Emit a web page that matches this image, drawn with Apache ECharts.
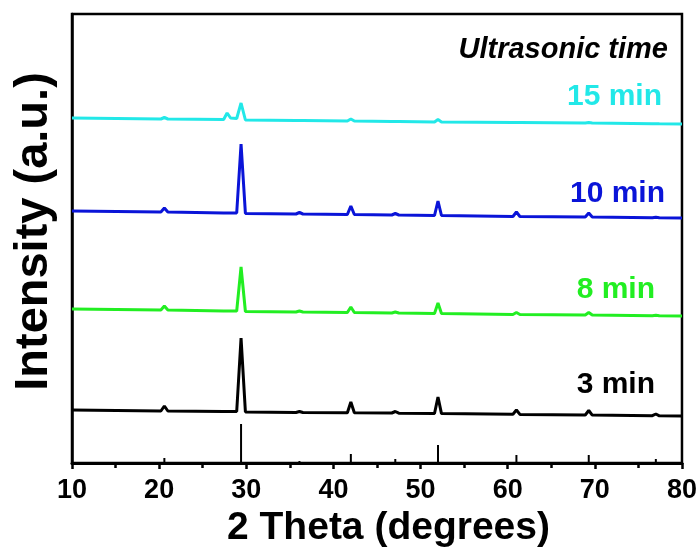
<!DOCTYPE html>
<html><head><meta charset="utf-8">
<script src="https://cdn.jsdelivr.net/npm/echarts@6/dist/echarts.min.js"></script>
<style>html,body{margin:0;padding:0;background:#fff}#c{width:700px;height:554px}</style>
</head><body><div id="c"></div>
<script>
// 2 theta sample positions (degrees)
const twoTheta = [10, 20.2, 20.6, 21.0, 27.4, 27.8, 28.2, 28.9, 29.4, 29.9, 35.7, 36.1, 36.5, 41.6, 42.0, 42.4, 46.7, 47.1, 47.5, 51.6, 52.0, 52.4, 60.6, 61.0, 61.4, 68.9, 69.3, 69.7, 76.6, 77.0, 77.4, 80];
// stacked intensities (a.u.)
const min3  = [53, 52, 57, 52, 51.5, 51.5, 51.5, 51.5, 125, 51, 50.5, 51.5, 50.5, 50.3, 61, 50.2, 50, 51.5, 49.8, 49.5, 66, 49.4, 48.7, 53, 48.6, 48, 52.5, 47.9, 47.3, 49, 47.2, 47];
const min8  = [154, 153, 157, 153, 152, 152, 152, 152, 196, 151.5, 151, 152, 151, 150.5, 156, 150.5, 150, 151, 150, 149.5, 160, 149.5, 148.5, 150.5, 148.5, 148, 150.5, 148, 147.3, 147.8, 147.2, 147];
const min10 = [252, 251, 255, 251, 250, 250, 250, 250, 319, 249.5, 249, 250.5, 249, 248.5, 257, 248.5, 248, 249.5, 248, 247.5, 262, 247.5, 246.5, 251, 246.5, 246, 250, 246, 245.3, 245.8, 245.2, 245];
const min15 = [345, 344, 345.5, 344, 343.5, 350, 345, 344.5, 360, 343, 342.5, 342.5, 342.5, 342, 344, 342, 341.5, 341.5, 341.5, 341, 343.5, 341, 340.5, 340.5, 340.5, 340, 340.5, 340, 339.3, 339.3, 339.2, 339];
// reference pattern sticks
const refPos = [20.6, 29.4, 36.1, 42.0, 47.1, 52.0, 61.0, 69.3, 77.0];
const refInt = [5, 39, 2, 9, 4, 18, 8, 8, 4];
const seriesNames = ['3 min', '8 min', '10 min', '15 min'];
const xTicks = [10, 20, 30, 40, 50, 60, 70, 80];

const FONT = '"Liberation Sans", Arial, sans-serif';
const colors = ['#000000', '#22ee22', '#0a14d8', '#22e8e8'];
const pairs = arr => twoTheta.map((x, i) => [x, arr[i]]);
const data = [min3, min8, min10, min15];
const labelPos = [[655, 385], [655, 290], [665, 194], [662, 97]];

const chart = echarts.init(document.getElementById('c'));
chart.setOption({
  animation: false,
  backgroundColor: '#fff',
  grid: {left: 72, right: 17, top: 14, bottom: 91, show: true, borderColor: '#000', borderWidth: 2.5},
  graphic: [
    {type: 'text', x: 668, y: 50, style: {text: 'Ultrasonic time', align: 'right', verticalAlign: 'middle',
      font: 'italic bold 29px ' + FONT, fill: '#000'}},
    ...seriesNames.map((n, i) => ({type: 'text', x: labelPos[i][0], y: labelPos[i][1],
      style: {text: n, align: 'right', verticalAlign: 'middle', font: 'bold 30px ' + FONT, fill: colors[i]}}))
  ],
  xAxis: {
    type: 'value', min: 10, max: 80, interval: 10,
    name: '2 Theta (degrees)', nameLocation: 'middle', nameGap: 40,
    nameTextStyle: {fontFamily: FONT, fontWeight: 'bold', fontSize: 39, color: '#000', padding: [0, 0, 0, 23]},
    axisLine: {lineStyle: {color: '#000', width: 3}},
    axisTick: {inside: false, length: 6, lineStyle: {color: '#000', width: 2.5}},
    minorTick: {show: true, splitNumber: 2, length: 5, lineStyle: {color: '#000', width: 2.5}},
    axisLabel: {fontFamily: FONT, fontWeight: 'bold', fontSize: 27, color: '#000', margin: 14,
      formatter: v => xTicks.includes(v) ? String(v) : ''},
    splitLine: {show: false}
  },
  yAxis: {
    type: 'value', min: 0, max: 449,
    name: 'Intensity (a.u.)', nameLocation: 'middle', nameGap: 14,
    nameTextStyle: {fontFamily: FONT, fontWeight: 'bold', fontSize: 47, color: '#000', padding: [0, 0, 0, 14]},
    axisLine: {show: true, lineStyle: {color: '#000', width: 2.5}},
    axisTick: {show: false}, axisLabel: {show: false}, splitLine: {show: false}
  },
  series: [
    ...data.map((arr, i) => ({
      name: seriesNames[i], type: 'line', data: pairs(arr), showSymbol: false, symbol: 'none',
      lineStyle: {color: colors[i], width: 3}, itemStyle: {color: colors[i]}
    })),
    {name: 'ref', type: 'bar', data: refPos.map((x, i) => [x, refInt[i]]), barWidth: 2,
      itemStyle: {color: '#000'}}
  ]
});
</script></body></html>
